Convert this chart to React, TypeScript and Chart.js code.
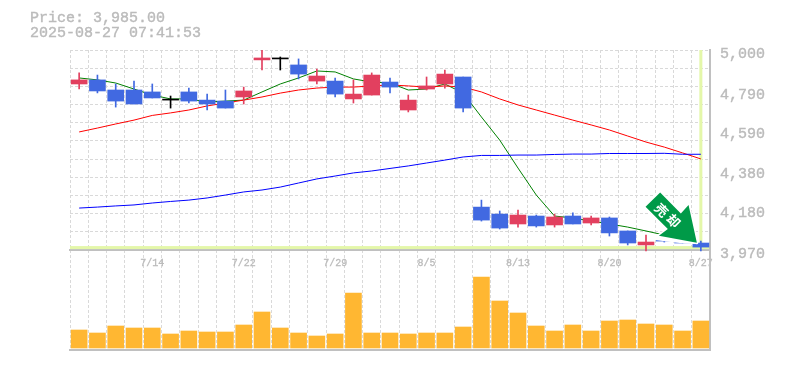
import React, { useEffect, useRef } from "react";
import { Chart, registerables } from "chart.js";

Chart.register(...registerables);

const dates = ["7/8","7/9","7/10","7/11","7/14","7/15","7/16","7/17","7/18","7/22","7/23","7/24","7/25","7/28","7/29","7/30","7/31","8/1","8/4","8/5","8/6","8/7","8/8","8/12","8/13","8/14","8/15","8/18","8/19","8/20","8/21","8/22","8/25","8/26","8/27"];
const shownDates = ["7/14","7/22","7/29","8/5","8/13","8/20","8/27"];
const priceTicks = [5000,4790,4590,4380,4180,3970];

const opens = [4825,4846,4794,4794,4784,4742,4784,4742,4737,4758,4949,4954,4923,4840,4840,4748,4768,4835,4691,4799,4825,4861,4191,4155,4104,4145,4099,4145,4109,4135,4068,3996,4032,4016,4006];
const closes = [4846,4789,4737,4722,4753,4742,4737,4722,4701,4789,4959,4954,4876,4866,4773,4773,4871,4809,4742,4815,4876,4701,4124,4083,4150,4094,4140,4104,4135,4058,4006,4011,4016,4006,3985];
const highs = [4882,4871,4825,4840,4825,4763,4804,4773,4794,4809,5000,4964,4954,4902,4856,4846,4882,4856,4768,4861,4897,4861,4227,4171,4176,4150,4155,4161,4145,4140,4068,4047,4042,4021,4016];
const lows = [4799,4779,4706,4722,4753,4701,4727,4691,4701,4722,4897,4897,4851,4825,4758,4727,4768,4779,4681,4794,4804,4681,4119,4078,4088,4088,4088,4104,4099,4042,3996,3965,4011,4006,3965];

const maShort = [4856,4846,4830,4799,4768,4748,4748,4732,4737,4742,4784,4825,4856,4892,4887,4851,4835,4830,4794,4799,4825,4778,4655,4536,4392,4253,4145,4135,4119,4104,4088,4068,4047,4021,4001];
const maMid = [4578,4598,4619,4639,4663,4676,4691,4712,4727,4742,4758,4778,4794,4804,4809,4809,4815,4820,4815,4809,4815,4809,4784,4748,4717,4691,4665,4639,4614,4588,4557,4526,4500,4470,4439];
const maLong = [4186,4191,4197,4202,4212,4220,4227,4238,4253,4269,4279,4294,4315,4336,4351,4367,4377,4390,4403,4418,4433,4449,4457,4457,4459,4459,4462,4464,4464,4467,4467,4467,4468,4463,4463];

const volumes = [18000,15000,22000,20000,20000,14000,17000,16000,16000,23000,36000,20000,15000,12000,14000,55000,15000,15000,14000,15000,15000,21000,71000,47000,35000,22000,17000,23000,17000,27000,28000,24000,23000,17000,27000];

const lastPrice = 3985;
const priceLabel = "Price: 3,985.00";
const stampLabel = "2025-08-27 07:41:53";
const signalGlyphs = ["売", "却"];

const UP = "#e2405f";
const DOWN = "#4169e1";
const TEXT = "#bbbbbb";
const GRID = "#d9d9d9";
const AXIS = "#c0c0c0";
const HILITE = "#e4f7a9";
const MONO = '"Liberation Mono", monospace';

const candleColor = (c: any) => {
  const i = c.dataIndex;
  return closes[i] > opens[i] ? UP : closes[i] < opens[i] ? DOWN : "#000000";
};

const hilitePlugin = {
  id: "hilite",
  beforeDatasetsDraw(chart: any) {
    const { ctx, chartArea, scales } = chart;
    const yp = scales.y.getPixelForValue(lastPrice);
    const xp = scales.x.getPixelForValue(dates.length - 1);
    ctx.save();
    ctx.fillStyle = HILITE;
    ctx.fillRect(chartArea.left, yp - 1, chartArea.right - chartArea.left - 1, 3);
    ctx.fillRect(xp - 1.5, chartArea.top, 3, yp - chartArea.top);
    ctx.restore();
  },
};

const overlayPlugin = {
  id: "overlay",
  afterDraw(chart: any) {
    const { ctx, scales } = chart;
    ctx.save();
    ctx.fillStyle = TEXT;
    ctx.strokeStyle = TEXT;
    ctx.lineWidth = 0.4;
    ctx.font = `15px ${MONO}`;
    ctx.textBaseline = "middle";
    ctx.textAlign = "left";
    [[priceLabel, 18], [stampLabel, 33]].forEach(([t, y]) => {
      ctx.fillText(t as string, 30, y as number);
      ctx.strokeText(t as string, 30, y as number);
    });

    // sell-signal arrow anchored on the last candle
    const ax = scales.x.getPixelForValue(dates.length - 1);
    const ay = scales.y.getPixelForValue(lastPrice);
    const poly = (pts: number[][]) => {
      ctx.beginPath();
      pts.forEach(([dx, dy], i) => (i ? ctx.lineTo(ax + dx, ay + dy) : ctx.moveTo(ax + dx, ay + dy)));
      ctx.closePath();
    };
    const arrow = [[-40.7, -54.7], [-55.3, -40.3], [-33, -18], [-42, -11.3], [-4, -4.3], [-12.3, -42], [-20, -33.7]];
    poly([[-46, -13], [-46, -7], [-26, -4.5], [-16, -3.5], [-4, -3], [-4, -6]]);
    ctx.fillStyle = "#ffffff";
    ctx.fill();
    poly(arrow);
    ctx.strokeStyle = "#ffffff";
    ctx.lineWidth = 3;
    ctx.lineJoin = "round";
    ctx.stroke();
    ctx.fillStyle = "#009a48";
    ctx.fill();

    ctx.fillStyle = "#ffffff";
    ctx.font = 'bold 13px "Noto Sans CJK JP"';
    ctx.textAlign = "center";
    ctx.textBaseline = "middle";
    [[-39.3, -37], [-27.3, -26.3]].forEach(([dx, dy], i) => {
      ctx.save();
      ctx.translate(ax + dx, ay + dy);
      ctx.rotate(Math.PI / 4);
      ctx.fillText(signalGlyphs[i], 0, 0);
      ctx.restore();
    });
    ctx.restore();
  },
};

export default function App() {
  const ref = useRef<HTMLCanvasElement>(null);

  useEffect(() => {
    const line = (data: number[], color: string) => ({
      type: "line" as const,
      data,
      borderColor: color,
      borderWidth: 1,
      pointRadius: 0,
      tension: 0,
      yAxisID: "y",
      xAxisID: "x",
      order: 3,
    });
    const chart = new Chart(ref.current as HTMLCanvasElement, {
      type: "bar",
      data: {
        labels: dates,
        datasets: [
          { label: "volume", data: volumes, backgroundColor: "#ffb732", barThickness: 16, grouped: false, yAxisID: "yVol", order: 5 },
          line(maLong, "#0000ff"),
          line(maMid, "#ff0000"),
          line(maShort, "#008000"),
          { label: "wick", data: highs.map((h, i) => [lows[i], h]), backgroundColor: candleColor, barThickness: 1, grouped: false, yAxisID: "y", order: 2 },
          { label: "body", data: opens.map((o, i) => [o, closes[i]]), backgroundColor: candleColor, barThickness: 16, minBarLength: 1, grouped: false, yAxisID: "y", order: 1 },
        ] as any,
      },
      options: {
        responsive: false,
        animation: false,
        events: [],
        layout: { padding: { left: 70, top: 50, bottom: 20, right: 0 } },
        plugins: { legend: { display: false }, tooltip: { enabled: false }, title: { display: false } },
        scales: {
          x: {
            type: "category",
            position: { y: 3970 },
            grid: { display: true, offset: true, color: GRID, lineWidth: 1, drawTicks: false },
            border: { display: true, color: AXIS, width: 2, dash: [3, 2] },
            ticks: {
              color: TEXT,
              font: { family: MONO, size: 10 },
              padding: 7,
              autoSkip: false,
              maxRotation: 0,
              minRotation: 0,
              textStrokeColor: TEXT,
              textStrokeWidth: 0.3,
              callback: (_v: any, i: number) => (shownDates.includes(dates[i]) ? dates[i] : ""),
            },
          },
          x2: {
            type: "category",
            labels: dates,
            position: "bottom",
            grid: { display: false },
            border: { display: true, color: AXIS, width: 2 },
            ticks: { display: false },
            afterFit: (s: any) => { s.height = 0; },
          },
          y: {
            position: "right",
            min: 3455,
            max: 5000,
            grid: { display: false, drawTicks: false },
            border: { display: true, color: AXIS, width: 2 },
            afterBuildTicks: (s: any) => { s.ticks = priceTicks.map((value) => ({ value })); },
            afterFit: (s: any) => { s.width = 75; },
            ticks: {
              color: TEXT,
              font: { family: MONO, size: 15 },
              padding: 10,
              labelOffset: 4,
              autoSkip: false,
              align: "center",
              textStrokeColor: TEXT,
              textStrokeWidth: 0.4,
              callback: (v: any) => Number(v).toLocaleString("en-US"),
            },
          },
          yGrid: {
            position: "left",
            min: 3455,
            max: 5000,
            grid: { display: true, color: GRID, lineWidth: 1, drawTicks: false },
            border: { display: false, dash: [3, 2] },
            ticks: { display: false },
            afterBuildTicks: (s: any) => {
              s.ticks = Array.from({ length: 12 }, (_, i) => ({ value: 5000 - (i * 1030) / 11 }));
            },
            afterFit: (s: any) => { s.width = 0; },
          },
          yVol: {
            display: false,
            position: "left",
            min: -2000,
            max: 298000,
          },
        } as any,
      },
      plugins: [hilitePlugin, overlayPlugin],
    } as any);
    return () => chart.destroy();
  }, []);

  return (
    <div style={{ position: "fixed", left: 0, top: 0, width: 785, height: 370, background: "#ffffff" }}>
      <canvas ref={ref} width={785} height={370} style={{ display: "block" }} />
    </div>
  );
}
